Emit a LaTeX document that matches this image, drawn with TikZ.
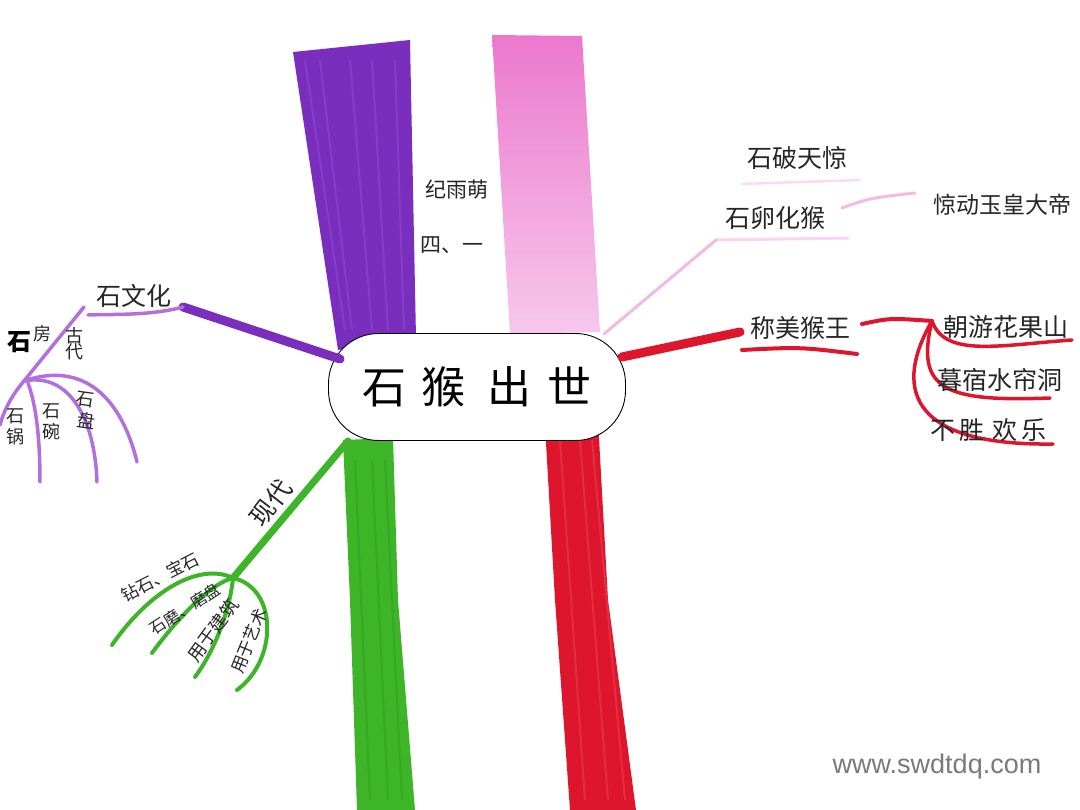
\documentclass[tikz,border=0pt]{standalone}
\usepackage{fontspec}
\newfontfamily\cjk{Noto Sans CJK SC}
\newfontfamily\wm{Liberation Sans}
\definecolor{purp}{RGB}{122,46,190}
\definecolor{purpL}{RGB}{160,90,225}
\definecolor{lpurp}{RGB}{178,112,222}
\definecolor{pinkA}{RGB}{236,120,205}
\definecolor{pinkB}{RGB}{247,200,236}
\definecolor{pinkL}{RGB}{245,185,230}
\definecolor{grn}{RGB}{62,180,40}
\definecolor{grnD}{RGB}{40,150,25}
\definecolor{rd}{RGB}{222,22,45}
\definecolor{rdL}{RGB}{240,90,100}
\begin{document}
\begin{tikzpicture}[x=1pt,y=-1pt,
  lbl/.style={font=\cjk\fontsize{25}{27}\selectfont, inner sep=1pt, text=black!85},
  mid/.style={font=\cjk\fontsize{21}{23}\selectfont, inner sep=1pt, text=black!85},
  sml/.style={font=\cjk\fontsize{18}{19}\selectfont, inner sep=1pt, text=black!85, align=center},
  gsml/.style={font=\cjk\fontsize{16}{17}\selectfont, inner sep=0pt, text=black!85},
  thick branch/.style={line width=9pt, line cap=round},
  thin branch/.style={line width=3.5pt, line cap=round},
  streak/.style={line width=2pt, opacity=0.35}]
\useasboundingbox (0,0) rectangle (1080,810);
\fill[white] (0,0) rectangle (1080,810);

% trunks
\fill[purp] (293,52) -- (410,40) -- (416,338) -- (338,350) -- cycle;
\foreach \a/\b in {305/345, 320/352, 350/372, 372/388, 395/404}
  \draw[purpL, streak] (\a,60) -- (\b,330);
\shade[top color=pinkA, bottom color=pinkB] (492,35) -- (582,36) -- (600,332) -- (510,334) -- cycle;
\fill[grn] (343,440) -- (393,438) -- (398,600) -- (415,810) -- (357,810) -- (350,600) -- cycle;
\foreach \a/\b in {355/370, 372/388, 385/402}
  \draw[grnD, streak] (\a,460) -- (\b,800);
\fill[rd] (545,425) -- (598,420) -- (608,600) -- (636,810) -- (570,810) -- (555,600) -- cycle;
\foreach \a/\b in {560/585, 580/608, 592/625}
  \draw[rdL, streak] (\a,440) -- (\b,800);

% centre
\node[draw=black, line width=0.9pt, fill=white, rounded corners=50pt,
      minimum width=297pt, minimum height=107pt, inner sep=0pt,
      font=\cjk\fontsize{44}{44}\selectfont] (center) at (477,387)
  {石\hspace{16pt}猴\hspace{22pt}出\hspace{16pt}世};

% name
\node[mid] (name) at (457,190) {纪雨萌};
\node[mid] (cls) at (452,245) {四、一};

% ---- purple branch ----
\coordinate (pA) at (183,307);
\coordinate (pB) at (88,315);
\coordinate (pC) at (84,307);
\coordinate (pD) at (24,381);
\draw[purp, thick branch] (center.west) ++(12,-28) coordinate (pS) -- (pA);
\draw[lpurp, thin branch] (pA) .. controls (150,316) and (110,314) .. (pB);
\draw[lpurp, thin branch] (pC) -- (pD);
\coordinate (pE1) at (0,425);
\coordinate (pE2) at (40,482);
\coordinate (pE3) at (97,482);
\coordinate (pE4) at (137,462);
\draw[lpurp, thin branch] (pD) .. controls (12,395) and (4,410) .. (pE1);
\draw[lpurp, thin branch] (pD) ++(4,2) .. controls (38,410) and (40,450) .. (pE2);
\draw[lpurp, thin branch] (pD) .. controls (70,372) and (95,420) .. (pE3);
\draw[lpurp, thin branch] (pD) .. controls (85,360) and (122,400) .. (pE4);
\node[lbl] (stwh) at (134,296) {石文化};
\node[font=\cjk\bfseries\fontsize{24}{24}\selectfont, inner sep=0pt] (sf1) at (20,342) {石};
\node[sml] (sf2) at (42,334) {房};
\node[sml] (gd) at (74,344) {古\\[-3pt]代};
\node[sml] (sg) at (15,427) {石\\[2pt]锅};
\node[sml] (sw) at (51,422) {石\\[2pt]碗};
\node[sml, rotate=-8] (sp) at (84,410) {石\\[2pt]\hspace{8pt}盘};

% ---- green branch ----
\coordinate (gA) at (233,578);
\draw[grn, line width=7pt, line cap=round] (center.south west) ++(20,0) coordinate (gS) -- (gA);
\coordinate (gE1) at (112,645);
\coordinate (gE2) at (152,653);
\coordinate (gE3) at (195,677);
\coordinate (gE4) at (237,690);
\draw[grn, line width=4pt, line cap=round] (gA) .. controls (200,562) and (150,590) .. (gE1);
\draw[grn, line width=4pt, line cap=round] (gA) .. controls (212,583) and (180,615) .. (gE2);
\draw[grn, line width=4pt, line cap=round] (gA) .. controls (230,610) and (215,650) .. (gE3);
\draw[grn, line width=4pt, line cap=round] (gA) .. controls (278,588) and (278,660) .. (gE4);
\node[lbl, rotate=52] (xd) at (271,503) {现代};
\node[gsml, font=\cjk\fontsize{17}{18}\selectfont, rotate=27] (zs) at (160,577) {钻石、宝石};
\node[gsml, rotate=33] (sm) at (185,609) {石磨、磨盘};
\node[gsml, font=\cjk\fontsize{18}{19}\selectfont, rotate=54] (jz) at (213,630) {用于建筑};
\node[gsml, font=\cjk\fontsize{17}{18}\selectfont, rotate=68] (ys) at (249,641) {用于艺术};

% ---- pink branch ----
\node[lbl] (spt) at (797,158) {石破天惊};
\node[lbl] (slh) at (775,218) {石卵化猴};
\node[font=\cjk\fontsize{23}{25}\selectfont, inner sep=1pt, text=black!85] (jd) at (1002,205) {惊动玉皇大帝};
\coordinate (kS) at (604,334);
\coordinate (kA) at (716,240);
\draw[pinkL, line width=3pt, line cap=round] (kS) -- (kA);
\draw[pinkL, line width=3pt, line cap=round, opacity=0.6] (kA) -- (848,238);
\draw[pinkL, line width=2.5pt, line cap=round, opacity=0.5] (742,184) -- (860,180);
\draw[pinkL, line width=3pt, line cap=round] (842,208) .. controls (870,198) .. (915,193);

% ---- red branch ----
\coordinate (rA) at (740,332);
\draw[rd, thick branch] (center.east) ++(-4,-30) coordinate (rS) -- (rA);
\node[lbl] (mhw) at (800,328) {称美猴王};
\draw[rd, line width=4pt, line cap=round] (742,350) .. controls (800,347) .. (857,354);
\coordinate (rB) at (862,324);
\coordinate (rC) at (932,321);
\draw[rd, line width=4pt, line cap=round] (rB) .. controls (890,318) .. (rC);
\coordinate (rE1) at (1072,340);
\coordinate (rE2) at (1050,398);
\coordinate (rE3) at (1053,444);
\draw[rd, line width=3.5pt, line cap=round] (rC) .. controls (945,358) and (1000,345) .. (rE1);
\draw[rd, line width=3.5pt, line cap=round] (rC) .. controls (915,390) and (945,402) .. (rE2);
\draw[rd, line width=3.5pt, line cap=round] (rC) .. controls (895,385) and (905,446) .. (rE3);
\node[lbl] (chy) at (1006,327) {朝游花果山};
\node[lbl] (msd) at (1000,380) {暮宿水帘洞};
\node[lbl] (bs) at (988,430) {不\hspace{4pt}胜\hspace{8pt}欢\hspace{4pt}乐};

% watermark
\node[font=\wm\fontsize{27}{27}\selectfont, text=black!52, inner sep=0pt] (wmk) at (937,767) {www.swdtdq.com};
\end{tikzpicture}
\end{document}
